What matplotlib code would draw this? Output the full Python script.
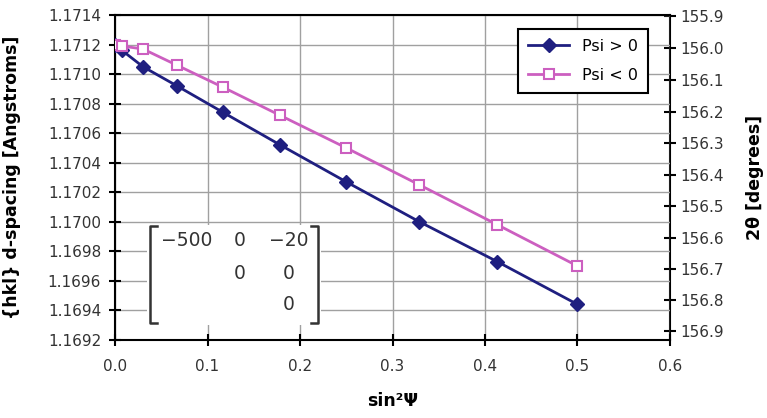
import numpy as np
import matplotlib.pyplot as plt
from matplotlib.ticker import MultipleLocator, FixedLocator, FormatStrFormatter

# sin^2(psi) positions for psi = 0..45 deg in 5 deg steps
sin2psi = [0.0, 0.0076, 0.0302, 0.0670, 0.1170, 0.1786, 0.2500, 0.3290, 0.4132, 0.5000]
d_pos = [1.17120, 1.17116, 1.17105, 1.17092, 1.17074, 1.17052, 1.17027, 1.17000, 1.16973, 1.16944]
d_neg = [1.17120, 1.17119, 1.17117, 1.17106, 1.17091, 1.17072, 1.17050, 1.17025, 1.16998, 1.16970]

# 2theta tick values for the right-hand axis
twotheta_ticks = [155.9, 156.0, 156.1, 156.2, 156.3, 156.4, 156.5, 156.6, 156.7, 156.8, 156.9]

# stress tensor shown in the inset
matrix_rows = [['\u2212500', '0', '\u221220'],
               ['', '0', '0'],
               ['', '', '0']]

# x-ray wavelength [Angstroms] for the Bragg conversion d <-> 2theta
lam = 2.29117

def d_to_2theta(d):
    s = np.clip(lam / (2 * np.asarray(d, dtype=float)), -1, 1)
    return 2 * np.degrees(np.arcsin(s))

def twotheta_to_d(tt):
    return lam / (2 * np.sin(np.radians(np.asarray(tt, dtype=float) / 2)))

navy = '#1f1f80'
pink = '#cc5fc0'

fig = plt.figure(figsize=(7.67, 4.18), dpi=100)
ax = fig.add_axes([0.150, 0.187, 0.7235, 0.777])

ax.plot(sin2psi, d_pos, color=navy, lw=2, marker='D', ms=7, mfc=navy, mec=navy, label='Psi > 0', zorder=3)
ax.plot(sin2psi, d_neg, color=pink, lw=2, marker='s', ms=7, mfc='white', mec=pink, mew=1.5, label='Psi < 0', zorder=3)

ax.set_xlim(0, 0.6)
ax.set_ylim(1.1692, 1.1714)
ax.xaxis.set_major_locator(MultipleLocator(0.1))
ax.xaxis.set_major_formatter(FormatStrFormatter('%.1f'))
ax.yaxis.set_major_locator(MultipleLocator(0.0002))
ax.yaxis.set_major_formatter(FormatStrFormatter('%.4f'))
ax.grid(True, color='#a0a0a0', lw=1)
ax.set_axisbelow(True)
ax.tick_params(direction='inout', length=8, width=1.5, labelsize=11, colors='black', labelcolor='#333333')
ax.tick_params(axis='x', pad=10)
ax.tick_params(axis='y', pad=6)
for sp in ax.spines.values():
    sp.set_linewidth(1.5)
ax.spines['right'].set_visible(False)

ax.set_ylabel('{hkl} d-spacing [Angstroms]', fontsize=12.5, fontweight='bold')
ax.set_xlabel('sin\u00b2\u03a8', fontsize=12.5, fontweight='bold')
ax.xaxis.set_label_coords(0.5, -0.16)
ax.yaxis.set_label_coords(-0.17, 0.5)

sec = ax.secondary_yaxis('right', functions=(d_to_2theta, twotheta_to_d))
sec.yaxis.set_major_locator(FixedLocator(twotheta_ticks))
sec.yaxis.set_major_formatter(FormatStrFormatter('%.1f'))
sec.tick_params(direction='inout', length=8, width=1.5, labelsize=11, labelcolor='#333333')
sec.spines['right'].set_linewidth(1.5)
sec.set_ylabel('2\u03b8 [degrees]', fontsize=12.5, fontweight='bold', labelpad=16)

leg = ax.legend(loc='upper right', bbox_to_anchor=(0.96, 0.957), borderaxespad=0, fontsize=11.5,
                fancybox=False, edgecolor='black', framealpha=1, handlelength=2.6,
                borderpad=0.6, labelspacing=0.9)
leg.get_frame().set_linewidth(1.5)

# inset matrix with brackets on a white patch
tr = ax.transAxes
x0, x1 = (150 - 115) / 555, (318 - 115) / 555
y0, y1 = (340 - 323) / 326, (340 - 226) / 326
ax.add_patch(plt.Rectangle((x0 - 0.005, y0 - 0.005), x1 - x0 + 0.01, y1 - y0 + 0.01,
                           transform=tr, facecolor='white', edgecolor='none', zorder=2))
serif = 0.012
ax.plot([x0 + serif, x0, x0, x0 + serif], [y1, y1, y0, y0], color='#333333', lw=1.8, transform=tr, zorder=4)
ax.plot([x1 - serif, x1, x1, x1 - serif], [y1, y1, y0, y0], color='#333333', lw=1.8, transform=tr, zorder=4)
col_x = [(187 - 115) / 555, (240 - 115) / 555, (289 - 115) / 555]
row_y = [(340 - 240) / 326, (340 - 273) / 326, (340 - 305) / 326]
for r, row in enumerate(matrix_rows):
    for c, txt in enumerate(row):
        if txt:
            ax.text(col_x[c], row_y[r], txt, transform=tr, ha='center', va='center',
                    fontsize=13.5, color='#333333', zorder=4)

fig.savefig('out.png', dpi=100)
